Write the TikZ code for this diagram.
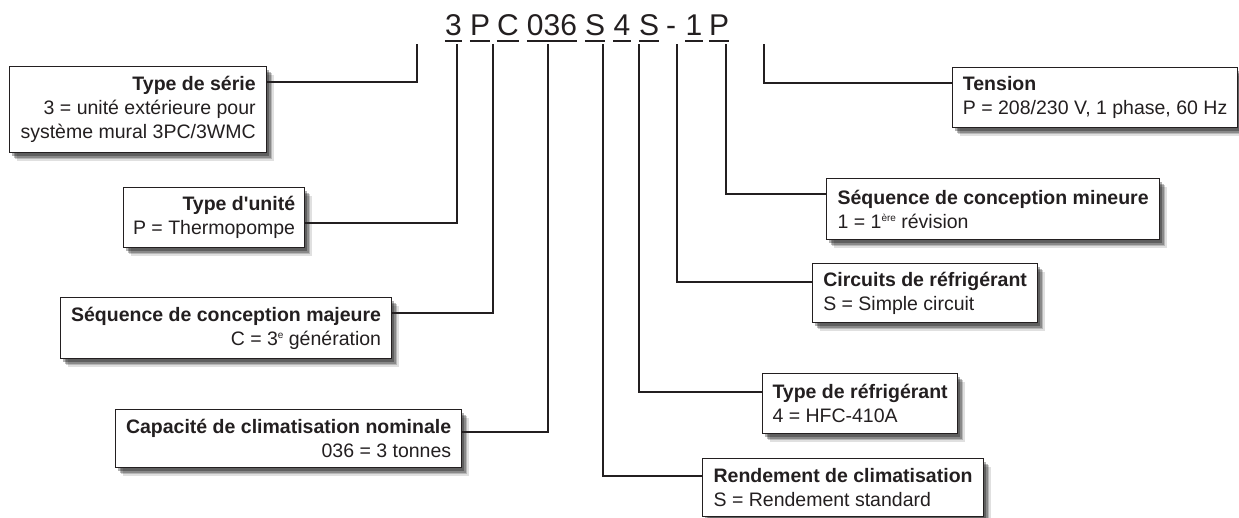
\documentclass[tikz,border=0pt]{standalone}
\usepackage{fontspec}
\setmainfont{Liberation Sans}
\usetikzlibrary{shadows,calc}
\definecolor{ink}{HTML}{231F20}
\newcommand\supx[1]{\raisebox{7pt}{\fontsize{10}{10}\selectfont #1}}
\begin{document}
\begin{tikzpicture}[x=1pt,y=-1pt,
  lbl/.style={font=\fontsize{19.5}{24}\selectfont, text=ink},
  box/.style={lbl, draw=ink, line width=1.2pt, fill=white, inner xsep=0pt, inner ysep=0pt,
    anchor=north west,
    drop shadow={shadow xshift=7pt,shadow yshift=-8pt,opacity=.12,fill=black},
    drop shadow={shadow xshift=5.5pt,shadow yshift=-6.5pt,opacity=.18,fill=black},
    drop shadow={shadow xshift=4pt,shadow yshift=-5pt,opacity=.25,fill=black},
    drop shadow={shadow xshift=2.5pt,shadow yshift=-3pt,opacity=.3,fill=black}},
  rbox/.style={box, align=right},
  lbox/.style={box, align=left},
  code/.style={font=\fontsize{30}{30}\selectfont, text=ink, inner sep=0pt, anchor=base},
  uline/.style={draw=ink, line width=1.5pt},
  conn/.style={draw=ink, line width=2pt}]
\fill[white] (0,0) rectangle (1239,517);
\useasboundingbox (0,0) rectangle (1239,517);

% code letters
\node[code] (k1) at (453.5,35) {3};
\node[code] (k2) at (480,35) {P};
\node[code] (k3) at (508,35) {C};
\node[code] (k4) at (552,35) {036};
\node[code] (k5) at (595,35) {S};
\node[code] (k6) at (622,35) {4};
\node[code] (k7) at (649,35) {S};
\node[code] (k8) at (671,35) {-};
\node[code] (k9) at (694,35) {1};
\node[code] (k10) at (719,35) {P};
\foreach \k in {k1,k2,k3,k4,k5,k6,k7,k9,k10}
  \draw[uline] ([yshift=-6pt]\k.base west) -- ([yshift=-6pt]\k.base east);

% boxes
\node[rbox, minimum width=257, minimum height=86] (serie) at (9,66)
  {\textbf{Type de série}\\3 = unité extérieure pour\\système mural 3PC/3WMC};
\node[rbox, minimum width=181, minimum height=60] (unite) at (123,187)
  {\textbf{Type d\textquotesingle unité}\\P = Thermopompe};
\node[rbox, minimum width=331, minimum height=61] (majeure) at (60,297)
  {\textbf{Séquence de conception majeure}\\C = 3\supx{e} génération};
\node[rbox, minimum width=346, minimum height=58] (capacite) at (115,409)
  {\textbf{Capacité de climatisation nominale}\\036 = 3 tonnes};
\node[lbox, minimum width=285, minimum height=60] (tension) at (952,67)
  {\textbf{Tension}\\P = 208/230 V, 1 phase, 60 Hz};
\node[lbox, minimum width=333, minimum height=61] (mineure) at (826,178)
  {\textbf{Séquence de conception mineure}\\1 = 1\supx{ère} révision};
\node[lbox, minimum width=225, minimum height=59] (circuits) at (812,263)
  {\textbf{Circuits de réfrigérant}\\S = Simple circuit};
\node[lbox, minimum width=195, minimum height=60] (refrig) at (762,373)
  {\textbf{Type de réfrigérant}\\4 = HFC-410A};
\node[lbox, minimum width=281, minimum height=58] (rendement) at (702,458)
  {\textbf{Rendement de climatisation}\\S = Rendement standard};

% connector top ends
\coordinate (t1) at (417,44);
\coordinate (t2) at (457,44);
\coordinate (t3) at (493,44);
\coordinate (t4) at (548,44);
\coordinate (t5) at (603,44);
\coordinate (t6) at (639,44);
\coordinate (t7) at (677,44);
\coordinate (t8) at (726,44);
\coordinate (t9) at (764,44);

\draw[conn] (t1) |- ($(serie.north east)+(0,16)$);
\draw[conn] (t2) |- ($(unite.north east)+(0,36)$);
\draw[conn] (t3) |- ($(majeure.north east)+(0,16)$);
\draw[conn] (t4) |- ($(capacite.north east)+(0,23)$);
\draw[conn] (t5) |- ($(rendement.north west)+(0,18)$);
\draw[conn] (t6) |- ($(refrig.north west)+(0,19)$);
\draw[conn] (t7) |- ($(circuits.north west)+(0,19)$);
\draw[conn] (t8) |- ($(mineure.north west)+(0,16)$);
\draw[conn] (t9) |- ($(tension.north west)+(0,16)$);
\end{tikzpicture}
\end{document}
